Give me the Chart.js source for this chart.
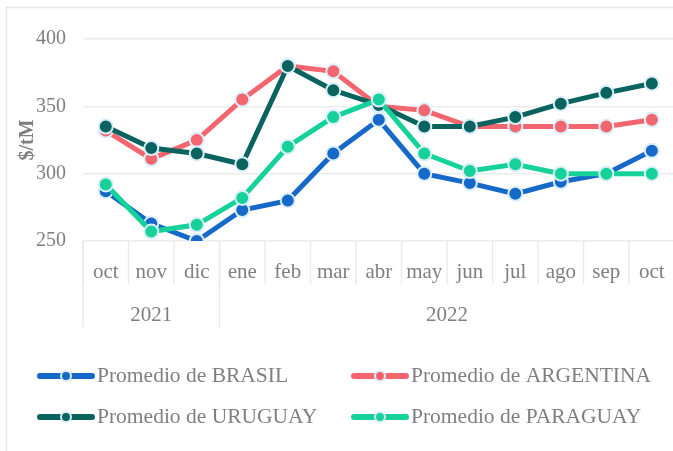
<!DOCTYPE html>
<html>
<head>
<meta charset="utf-8">
<script src="https://cdn.jsdelivr.net/npm/chart.js@4"></script>
<style>
  body { margin: 0; overflow: hidden; background: #fff; }
</style>
</head>
<body>
<canvas id="grafico" width="684" height="451"></canvas>
<script>
// datos
const meses = ['oct', 'nov', 'dic', 'ene', 'feb', 'mar', 'abr', 'may', 'jun', 'jul', 'ago', 'sep', 'oct'];
const anios = ['2021', '2022'];
const mesesPorAnio = [3, 10];

const brasil    = [287, 263, 250, 273, 280, 315, 340, 300, 293, 285, 294, 300, 317];
const argentina = [332, 311, 325, 355, 380, 376, 350, 347, 335, 335, 335, 335, 340];
const uruguay   = [335, 319, 315, 307, 380, 362, 351, 335, 335, 342, 352, 360, 367];
const paraguay  = [292, 257, 262, 282, 320, 342, 355, 315, 302, 307, 300, 300, 300];

const nombres = ['Promedio de BRASIL', 'Promedio de ARGENTINA', 'Promedio de URUGUAY', 'Promedio de PARAGUAY'];
const colores = ['#1769c9', '#f4666f', '#0b635f', '#16d29a'];

const fuente = 'Liberation Serif';
const gris = '#7f7f7f';
const bordePunto = '#d9eef9';

function serie(i, valores, orden) {
  return {
    label: nombres[i],
    data: valores,
    borderColor: colores[i],
    backgroundColor: colores[i],
    borderWidth: 5,
    pointRadius: 7,
    pointBorderWidth: 2,
    pointBorderColor: bordePunto,
    pointBackgroundColor: colores[i],
    tension: 0,
    order: orden
  };
}

// separadores, anios, marco y leyenda
const extras = {
  id: 'extras',
  afterDraw(chart) {
    const ctx = chart.ctx;
    const x = chart.scales.x;
    const area = chart.chartArea;
    ctx.save();

    // marco
    ctx.strokeStyle = '#e6e6e6';
    ctx.lineWidth = 1.5;
    ctx.strokeRect(6.5, 7.5, 800, 800);

    // separadores de meses
    ctx.strokeStyle = '#ebebeb';
    ctx.lineWidth = 1.5;
    const limite = (i) => {
      if (i <= 0) return area.left;
      if (i >= meses.length) return area.right;
      return (x.getPixelForValue(i - 1) + x.getPixelForValue(i)) / 2;
    };
    for (let i = 0; i <= meses.length; i++) {
      ctx.beginPath();
      ctx.moveTo(limite(i), area.bottom);
      ctx.lineTo(limite(i), area.bottom + 43);
      ctx.stroke();
    }

    // anios
    let inicio = 0;
    ctx.font = '21px "' + fuente + '"';
    ctx.fillStyle = gris;
    ctx.textAlign = 'center';
    ctx.textBaseline = 'middle';
    for (let a = 0; a < anios.length; a++) {
      const fin = inicio + mesesPorAnio[a];
      const x0 = limite(inicio);
      const x1 = limite(fin);
      ctx.beginPath();
      ctx.moveTo(x0, area.bottom);
      ctx.lineTo(x0, area.bottom + 86);
      ctx.stroke();
      ctx.fillText(anios[a], (x0 + x1) / 2, area.bottom + 74);
      inicio = fin;
    }

    // leyenda
    const posiciones = [[37, 376], [351, 376], [37, 417], [351, 417]];
    ctx.font = '21.5px "' + fuente + '"';
    ctx.textAlign = 'left';
    for (let i = 0; i < nombres.length; i++) {
      const px = posiciones[i][0];
      const py = posiciones[i][1];
      ctx.strokeStyle = colores[i];
      ctx.lineWidth = 6;
      ctx.lineCap = 'round';
      ctx.beginPath();
      ctx.moveTo(px + 3, py);
      ctx.lineTo(px + 55, py);
      ctx.stroke();
      ctx.beginPath();
      ctx.arc(px + 29, py, 5, 0, Math.PI * 2);
      ctx.fillStyle = colores[i];
      ctx.fill();
      ctx.lineWidth = 2;
      ctx.strokeStyle = bordePunto;
      ctx.stroke();
      ctx.fillStyle = gris;
      ctx.fillText(nombres[i], px + 60, py);
    }
    ctx.restore();
  }
};

var chart = new Chart(document.getElementById('grafico').getContext('2d'), {
  type: 'line',
  data: {
    labels: meses,
    datasets: [
      serie(0, brasil, 3),
      serie(1, argentina, 2),
      serie(2, uruguay, 1),
      serie(3, paraguay, 0)
    ]
  },
  options: {
    responsive: false,
    animation: false,
    layout: { padding: { top: 39, left: 0, right: 0, bottom: 0 } },
    plugins: {
      legend: { display: false },
      tooltip: { enabled: false }
    },
    scales: {
      x: {
        type: 'category',
        offset: true,
        grid: { display: false, drawTicks: false },
        border: { display: false },
        ticks: {
          autoSkip: false,
          maxRotation: 0,
          padding: 19,
          color: gris,
          font: { family: fuente, size: 21 }
        },
        afterFit: function (scale) { scale.height = 210; }
      },
      y: {
        min: 250,
        max: 400,
        grid: { color: '#ececec', lineWidth: 1.5, drawTicks: false },
        border: { display: false },
        ticks: {
          stepSize: 50,
          padding: 17,
          color: gris,
          font: { family: fuente, size: 20 }
        },
        title: {
          display: true,
          text: '$/tM',
          color: gris,
          padding: { top: 16 },
          font: { family: fuente, size: 20, weight: 'bold' }
        },
        afterFit: function (scale) { scale.width = 83; }
      }
    }
  },
  plugins: [extras]
});
</script>
</body>
</html>
